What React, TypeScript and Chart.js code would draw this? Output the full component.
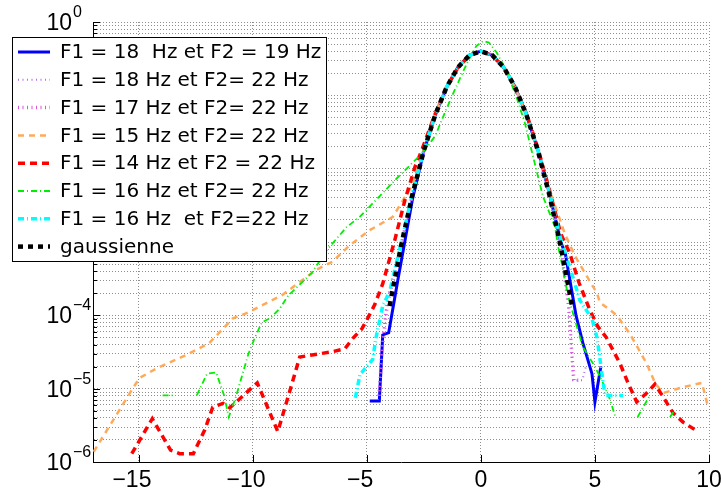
import React, { useEffect, useRef } from 'react';
import { Chart, registerables } from 'chart.js';

Chart.register(...registerables);

// ---------- data ----------
const blueX = [-4.87, -4.45, -4.3, -4.04, -3.64, -3, -2.5, -2, -1.5, -1, -0.5, 0, 0.5, 1, 1.5, 2, 2.5, 3, 3.5, 3.7, 4.17, 4.47, 4.87, 5.0, 5.26];
const blueY = [6.8e-6, 6.8e-6, 5.4e-5, 5.8e-5, 3.0e-4, 3.8e-3, 0.0172, 0.0535, 0.129, 0.242, 0.353, 0.4, 0.352, 0.241, 0.13, 0.0545, 0.018, 4.7e-3, 1.0e-3, 7.0e-4, 1.0e-4, 4.2e-5, 1.6e-5, 6.6e-6, 2.0e-5];

const violetX = [-4.52, -4.39, -4.3, -4.2, -4.0, -3.5, -3, -2.5, -2, -1.5, -1, -0.5, 0, 0.5, 1, 1.5, 2, 2.5, 3, 3.5, 3.82, 3.95, 4.04, 4.45, 4.6];
const violetY = [7e-6, 1.8e-5, 4.6e-5, 1.07e-4, 2.2e-4, 9.0e-4, 4.4e-3, 0.0176, 0.054, 0.129, 0.242, 0.351, 0.398, 0.353, 0.243, 0.13, 0.054, 0.0174, 4.4e-3, 8.5e-4, 1.5e-4, 5e-5, 1.3e-5, 1.3e-5, 2.0e-5];

const magentaX = [-4.45, -4.35, -4.1, -3.5, -3, -2.5, -2, -1.5, -1, -0.5, 0, 0.5, 1, 1.5, 2, 2.5, 3, 3.5, 3.85, 4.0, 4.08, 4.35];
const magentaY = [8e-6, 3e-5, 1.4e-4, 8.8e-4, 4.5e-3, 0.0177, 0.0545, 0.13, 0.241, 0.352, 0.4, 0.352, 0.242, 0.13, 0.054, 0.0176, 4.5e-3, 8.8e-4, 1.3e-4, 2.6e-5, 1.3e-5, 1.3e-5];

const orangeX = [-16.97, -15.3, -14.96, -14.2, -12.9, -11.9, -10.87, -10.27, -8.7, -7.2, -6.5, -5.75, -4.87, -3.86, -3.0, -2.5, -2, -1.5, -1, -0.5, 0, 0.5, 1, 1.5, 2, 2.5, 3, 3.68, 4.12, 4.56, 5.09, 5.22, 5.96, 6.53, 7.27, 7.63, 7.98, 8.86, 9.69, 9.96];
const orangeY = [1.38e-6, 9.6e-6, 1.4e-5, 1.9e-5, 2.9e-5, 4.2e-5, 9.1e-5, 1.07e-4, 1.9e-4, 4.2e-4, 5.4e-4, 9e-4, 1.45e-3, 2.2e-3, 6.0e-3, 0.0185, 0.055, 0.128, 0.24, 0.35, 0.4, 0.35, 0.24, 0.128, 0.055, 0.019, 5.2e-3, 1.3e-3, 6.5e-4, 3.8e-4, 2.0e-4, 1.5e-4, 1.0e-4, 5.6e-5, 2.2e-5, 1.2e-5, 8.7e-6, 1.05e-5, 1.2e-5, 5.6e-6];

const redX = [-15.3, -14.4, -13.6, -13.2, -12.6, -12.1, -11.75, -11.3, -11.0, -9.8, -8.9, -8.4, -7.94, -6.5, -5.96, -5.6, -5.22, -4.96, -4.65, -4.3, -3.77, -3.33, -2.89, -2.59, -2, -1.5, -1, -0.5, 0, 0.5, 1, 1.5, 2, 2.5, 3, 3.5, 3.9, 4.3, 4.78, 5.13, 5.5, 6.1, 6.45, 6.83, 7.27, 7.63, 7.98, 8.42, 8.86, 9.39];
const redY = [1.3e-6, 3.9e-6, 1.45e-6, 1.3e-6, 1.3e-6, 2.75e-6, 5.6e-6, 6.3e-6, 5.5e-6, 1.2e-5, 2.6e-6, 8.7e-6, 2.7e-5, 3.2e-5, 3.5e-5, 4.9e-5, 6.5e-5, 9.1e-5, 1.4e-4, 2.7e-4, 1.07e-3, 3.7e-3, 0.0105, 0.0178, 0.056, 0.13, 0.24, 0.35, 0.4, 0.35, 0.24, 0.13, 0.056, 0.019, 5.2e-3, 1.3e-3, 7.0e-4, 2.8e-4, 1.17e-4, 7.0e-5, 5.0e-5, 2.2e-5, 1.2e-5, 6.6e-6, 8.7e-6, 1.15e-5, 7.8e-6, 4.7e-6, 3.5e-6, 2.75e-6];

const greenX = [-13.95, -13.4, -12.9, -12.45, -12.0, -11.6, -11.25, -11.05, -10.75, -10.2, -9.9, -9.6, -9.2, -8.8, -8.45, -7.41, -6.75, -5.88, -5.31, -3.68, -2.8, -2.4, -2.0, -1.6, -1.25, -0.9, -0.55, -0.2, 0.1, 0.35, 0.7, 1.14, 1.58, 1.93, 2.2, 2.46, 2.72, 3.03, 3.25, 3.4, 3.55, 3.7, 3.9, 4.47, 5.0, 5.35, 5.66, 5.9, 6.4, 6.87, 7.41, 7.85, 8.29, 8.5];
const greenY = [8.1e-6, 8.1e-6, null, 8.1e-6, 1.6e-5, 1.66e-5, 8e-6, 4.1e-6, 7.5e-6, 2.9e-5, 5e-5, 8e-5, 9.3e-5, 1.25e-4, 1.85e-4, 3.8e-4, 7.8e-4, 1.6e-3, 2.2e-3, 7.4e-3, 0.0138, 0.019, 0.028, 0.056, 0.1, 0.174, 0.3, 0.47, 0.55, 0.525, 0.38, 0.21, 0.091, 0.042, 0.019, 8.9e-3, 4.2e-3, 2.4e-3, 1.6e-3, 8.3e-4, 5.1e-4, 2.8e-4, 1.5e-4, 3.7e-5, 2.0e-5, 1.2e-5, 7.1e-6, 4.1e-6, null, 4.1e-6, 8.1e-6, null, 4.1e-6, 5.1e-6];

const cyanX = [-5.5, -5.3, -4.74, -4.6, -4.43, -4.3, -4.0, -3.5, -3, -2.5, -2, -1.5, -1, -0.5, 0, 0.5, 1, 1.5, 2, 2.5, 3, 3.5, 4.08, 4.34, 4.87, 5.09, 5.44, 6.23];
const cyanY = [7.5e-6, 1.55e-5, 2.5e-5, 4.9e-5, 8.7e-5, 1.35e-4, 2.1e-4, 9.5e-4, 4.6e-3, 0.0178, 0.0545, 0.13, 0.242, 0.352, 0.4, 0.352, 0.242, 0.13, 0.0545, 0.0178, 4.8e-3, 1.1e-3, 3.0e-4, 1.6e-4, 9e-5, 5e-5, 8.1e-6, 8.1e-6];

const gaussX = [-4, -3.5, -3, -2.5, -2, -1.5, -1, -0.5, 0, 0.5, 1, 1.5, 2, 2.5, 3, 3.5, 4];
const gaussY = [1.34e-4, 8.73e-4, 4.43e-3, 0.0175, 0.054, 0.1295, 0.242, 0.352, 0.399, 0.352, 0.242, 0.1295, 0.054, 0.0175, 4.43e-3, 8.73e-4, 1.34e-4];

const seriesLabels = [
  'F1 = 18  Hz et F2 = 19 Hz',
  'F1 = 18 Hz et F2= 22 Hz',
  'F1 = 17 Hz et F2= 22 Hz',
  'F1 = 15 Hz et F2= 22 Hz',
  'F1 = 14 Hz et F2 = 22 Hz',
  'F1 = 16 Hz et F2= 22 Hz',
  'F1 = 16 Hz  et F2=22 Hz',
  'gaussienne',
];

const xTickValues = [-15, -10, -5, 0, 5, 10];
const yDecades = [-6, -5, -4, -3, -2, -1, 0];

// ---------- styles ----------
const seriesStyles = [
  { color: '#0000ff', width: 3, dash: [] as number[] },
  { color: '#b36bf0', width: 2, dash: [1, 3.5] },
  { color: '#dd55dd', width: 3.5, dash: [1, 3.5] },
  { color: '#ffaa5a', width: 2.5, dash: [6, 5] },
  { color: '#ff0000', width: 3.5, dash: [7, 5] },
  { color: '#00ee00', width: 1.8, dash: [6, 3, 1, 3] },
  { color: '#00ffff', width: 3.5, dash: [6, 3, 1, 3] },
  { color: '#000000', width: 4.5, dash: [5, 5] },
];

const seriesData = [
  [blueX, blueY],
  [violetX, violetY],
  [magentaX, magentaY],
  [orangeX, orangeY],
  [redX, redY],
  [greenX, greenY],
  [cyanX, cyanY],
  [gaussX, gaussY],
];

const TICK_FONT = '23px "Liberation Sans", Arial, sans-serif';
const EXP_FONT = '16px "Liberation Sans", Arial, sans-serif';
const LEG_FONT = '20px "DejaVu Sans", sans-serif';

const decorPlugin = {
  id: 'decor',
  afterDraw(chart: any) {
    const { ctx, chartArea: ca } = chart;
    const xs = chart.scales.x;
    const ys = chart.scales.y;
    ctx.save();
    // inward tick marks
    ctx.strokeStyle = '#000';
    ctx.lineWidth = 1;
    ctx.setLineDash([]);
    ctx.beginPath();
    for (const e of yDecades) {
      for (let m = 1; m <= 9; m++) {
        if (e === 0 && m > 1) break;
        const v = m * Math.pow(10, e);
        const py = Math.round(ys.getPixelForValue(v)) + 0.5;
        const len = m === 1 ? 7 : 4;
        ctx.moveTo(ca.left, py);
        ctx.lineTo(ca.left + len, py);
      }
    }
    for (const v of xTickValues) {
      const px = Math.round(xs.getPixelForValue(v)) + 0.5;
      ctx.moveTo(px, ca.bottom);
      ctx.lineTo(px, ca.bottom - 7);
    }
    ctx.stroke();

    // x labels
    ctx.fillStyle = '#000';
    ctx.font = TICK_FONT;
    ctx.textBaseline = 'alphabetic';
    ctx.textAlign = 'left';
    for (const v of xTickValues) {
      const px = xs.getPixelForValue(v);
      const digits = String(Math.abs(v));
      const dw = ctx.measureText(digits).width;
      let start = px - dw / 2;
      if (v < 0) {
        const mw = ctx.measureText('\u2212').width;
        start -= mw;
        ctx.fillText('\u2212' + digits, start, ca.bottom + 25);
      } else {
        ctx.fillText(digits, start, ca.bottom + 25);
      }
    }

    // y labels 10^e
    for (const e of yDecades) {
      const py = ys.getPixelForValue(Math.pow(10, e));
      ctx.font = TICK_FONT;
      ctx.textAlign = 'right';
      ctx.fillText('10', ca.left - 21, py + 8);
      ctx.font = EXP_FONT;
      ctx.textAlign = 'left';
      ctx.fillText(e === 0 ? '0' : '\u2212' + String(-e), ca.left - 20, py - 5);
    }

    // legend box
    const bx = 12, by = 37, bw = 314, bh = 224;
    ctx.fillStyle = '#fff';
    ctx.fillRect(bx, by, bw, bh);
    ctx.strokeStyle = '#000';
    ctx.lineWidth = 1;
    ctx.setLineDash([]);
    ctx.strokeRect(bx + 0.5, by + 0.5, bw, bh);
    ctx.font = LEG_FONT;
    ctx.textBaseline = 'middle';
    ctx.textAlign = 'left';
    seriesLabels.forEach((label, i) => {
      const ry = 52 + i * 27.8;
      const st = seriesStyles[i];
      ctx.beginPath();
      ctx.strokeStyle = st.color;
      ctx.lineWidth = st.width;
      ctx.lineCap = 'butt';
      ctx.setLineDash(st.dash);
      ctx.moveTo(18, ry);
      ctx.lineTo(50, ry);
      ctx.stroke();
      ctx.setLineDash([]);
      ctx.fillStyle = '#000';
      ctx.fillText(label, 60, ry + 1);
    });
    ctx.restore();
  },
};

export default function App() {
  const ref = useRef<HTMLCanvasElement | null>(null);
  useEffect(() => {
    document.body.style.margin = '0';
    const canvas = ref.current;
    if (!canvas) return;
    const datasets = seriesData.map(([xv, yv], i) => ({
      label: seriesLabels[i],
      data: (xv as number[]).map((x, k) => ({ x, y: (yv as (number | null)[])[k] })),
      borderColor: seriesStyles[i].color,
      backgroundColor: seriesStyles[i].color,
      borderWidth: seriesStyles[i].width,
      borderDash: seriesStyles[i].dash,
      borderCapStyle: 'butt' as const,
      pointRadius: 0,
      tension: 0,
      spanGaps: false,
      fill: false,
      order: seriesLabels.length - 1 - i,
    }));
    const gridColor = '#8f8f8f';
    const chart = new Chart(canvas, {
      type: 'line',
      data: { datasets: datasets as any },
      options: {
        animation: false,
        responsive: false,
        devicePixelRatio: 1,
        events: [],
        layout: { padding: { left: 0, top: 22, right: 12, bottom: 0 } },
        plugins: { legend: { display: false }, tooltip: { enabled: false } },
        scales: {
          x: {
            type: 'linear',
            min: -17,
            max: 10,
            afterBuildTicks: (s: any) => {
              s.ticks = xTickValues.map((v) => ({ value: v }));
            },
            afterFit: (s: any) => {
              s.height = 28;
            },
            ticks: { display: false },
            grid: { color: gridColor, lineWidth: 1, drawTicks: false },
            border: { display: true, color: '#000', width: 1, dash: [1, 2] },
          },
          y: {
            type: 'logarithmic',
            min: 1e-6,
            max: 1,
            afterBuildTicks: (s: any) => {
              const t: { value: number }[] = [];
              for (const e of yDecades) {
                for (let m = 1; m <= 9; m++) {
                  if (e === 0 && m > 1) break;
                  t.push({ value: m * Math.pow(10, e) });
                }
              }
              s.ticks = t;
            },
            afterFit: (s: any) => {
              s.width = 93;
            },
            ticks: { display: false },
            grid: { color: gridColor, lineWidth: 1, drawTicks: false },
            border: { display: true, color: '#000', width: 1, dash: [1, 2] },
          },
        },
      },
      plugins: [decorPlugin],
    });
    return () => chart.destroy();
  }, []);
  return (
    <div style={{ width: 721, height: 490 }}>
      <canvas ref={ref} width={721} height={490} style={{ display: 'block' }} />
    </div>
  );
}
